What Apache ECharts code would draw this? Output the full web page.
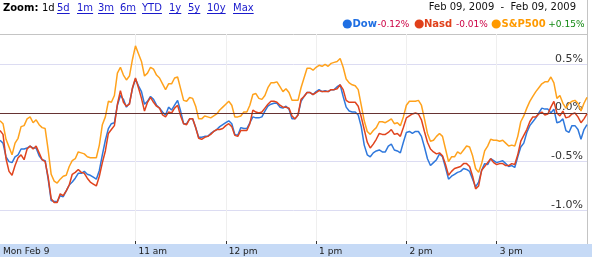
<!DOCTYPE html>
<html><head><meta charset="utf-8">
<script src="https://cdn.jsdelivr.net/npm/echarts@6/dist/echarts.min.js"></script>
<style>html,body{margin:0;padding:0;background:#fff;}#c{width:592px;height:257px;}</style>
</head><body><div id="c"></div>
<script>
// ---- data (percent change vs. previous close, 2-minute samples 09:30-16:00) ----
const dow = [
-0.28,-0.31,-0.45,-0.50,-0.51,-0.45,-0.43,-0.37,-0.37,-0.36,
-0.34,-0.36,-0.36,-0.44,-0.48,-0.49,-0.68,-0.90,-0.91,-0.91,
-0.85,-0.86,-0.80,-0.74,-0.71,-0.67,-0.62,-0.62,-0.60,-0.63,
-0.64,-0.66,-0.68,-0.59,-0.43,-0.28,-0.16,-0.11,-0.10,0.08,
0.18,0.14,0.06,0.10,0.25,0.35,0.28,0.22,0.09,0.12,
0.17,0.14,0.08,0.05,0.01,-0.02,0.06,0.03,0.08,0.13,
0.02,-0.11,-0.11,-0.06,-0.06,-0.15,-0.25,-0.25,-0.24,-0.24,
-0.21,-0.19,-0.17,-0.14,-0.12,-0.10,-0.08,-0.11,-0.22,-0.23,
-0.15,-0.16,-0.16,-0.10,-0.04,-0.05,-0.05,-0.04,0.02,0.07,
0.09,0.10,0.10,0.06,0.05,0.07,0.04,-0.06,-0.06,-0.02,
0.12,0.17,0.21,0.21,0.19,0.22,0.24,0.22,0.23,0.22,
0.24,0.24,0.27,0.29,0.17,0.06,0.02,0.01,0.01,-0.02,
-0.14,-0.33,-0.43,-0.45,-0.41,-0.39,-0.38,-0.40,-0.40,-0.34,
-0.32,-0.38,-0.39,-0.41,-0.30,-0.20,-0.19,-0.21,-0.19,-0.19,
-0.24,-0.35,-0.47,-0.54,-0.51,-0.48,-0.42,-0.45,-0.56,-0.68,
-0.65,-0.63,-0.61,-0.60,-0.57,-0.58,-0.60,-0.68,-0.76,-0.71,
-0.59,-0.52,-0.53,-0.47,-0.49,-0.51,-0.50,-0.49,-0.52,-0.55,
-0.54,-0.56,-0.45,-0.35,-0.31,-0.20,-0.13,-0.09,-0.05,0.00,
0.05,0.04,0.04,0.00,0.04,-0.10,-0.09,-0.06,-0.18,-0.20,
-0.13,-0.13,-0.17,-0.27,-0.17,-0.12];
const nasd = [
-0.18,-0.22,-0.47,-0.60,-0.64,-0.54,-0.46,-0.43,-0.48,-0.37,
-0.34,-0.37,-0.34,-0.41,-0.48,-0.50,-0.66,-0.88,-0.92,-0.92,
-0.83,-0.85,-0.80,-0.74,-0.63,-0.61,-0.58,-0.61,-0.62,-0.67,
-0.71,-0.73,-0.75,-0.65,-0.51,-0.39,-0.21,-0.17,-0.13,0.09,
0.23,0.11,0.07,0.09,0.26,0.36,0.26,0.15,0.02,0.11,
0.16,0.11,0.07,0.05,-0.02,-0.04,0.01,0.00,0.05,0.08,
-0.03,-0.11,-0.12,-0.06,-0.06,-0.15,-0.26,-0.27,-0.25,-0.24,
-0.22,-0.19,-0.17,-0.17,-0.16,-0.13,-0.11,-0.14,-0.23,-0.24,
-0.18,-0.18,-0.18,-0.11,0.03,0.01,0.00,0.01,0.05,0.09,
0.12,0.12,0.11,0.08,0.06,0.06,0.05,-0.03,-0.06,-0.02,
0.14,0.17,0.21,0.21,0.19,0.21,0.23,0.22,0.22,0.22,
0.24,0.24,0.25,0.29,0.24,0.13,0.11,0.11,0.11,0.07,
-0.04,-0.17,-0.30,-0.36,-0.32,-0.27,-0.21,-0.22,-0.22,-0.20,
-0.17,-0.22,-0.21,-0.24,-0.15,-0.05,-0.03,-0.01,0.00,-0.01,
-0.07,-0.19,-0.30,-0.37,-0.40,-0.42,-0.41,-0.44,-0.53,-0.64,
-0.60,-0.57,-0.56,-0.55,-0.52,-0.52,-0.55,-0.65,-0.78,-0.75,
-0.59,-0.55,-0.51,-0.47,-0.51,-0.53,-0.52,-0.52,-0.54,-0.54,
-0.52,-0.53,-0.43,-0.29,-0.23,-0.17,-0.09,-0.04,-0.04,-0.01,
0.01,-0.02,-0.01,0.06,0.12,0.00,-0.03,0.02,-0.05,-0.04,
-0.01,0.00,-0.04,-0.10,-0.06,-0.01];
const sp500 = [
-0.08,-0.11,-0.27,-0.35,-0.43,-0.31,-0.26,-0.14,-0.13,-0.06,
-0.04,-0.10,-0.07,-0.12,-0.15,-0.16,-0.38,-0.63,-0.70,-0.72,
-0.68,-0.65,-0.64,-0.55,-0.49,-0.47,-0.40,-0.41,-0.42,-0.45,
-0.46,-0.46,-0.46,-0.33,-0.12,-0.04,0.12,0.11,0.18,0.41,
0.47,0.39,0.34,0.38,0.55,0.69,0.61,0.53,0.38,0.41,
0.47,0.45,0.39,0.36,0.30,0.24,0.30,0.30,0.36,0.37,
0.25,0.13,0.12,0.16,0.15,0.07,-0.06,-0.06,-0.03,-0.04,
-0.05,-0.03,-0.01,0.03,0.06,0.09,0.12,0.08,-0.04,-0.04,
-0.03,0.01,0.01,0.08,0.19,0.20,0.15,0.14,0.18,0.26,
0.31,0.31,0.32,0.27,0.22,0.25,0.21,0.13,0.13,0.13,
0.26,0.36,0.46,0.46,0.44,0.47,0.49,0.48,0.50,0.48,
0.51,0.52,0.53,0.56,0.47,0.35,0.31,0.29,0.28,0.24,
0.08,-0.08,-0.19,-0.22,-0.18,-0.15,-0.09,-0.09,-0.10,-0.08,
-0.06,-0.11,-0.10,-0.13,-0.04,0.08,0.12,0.12,0.12,0.13,
0.08,-0.06,-0.21,-0.29,-0.28,-0.24,-0.21,-0.24,-0.37,-0.50,
-0.45,-0.45,-0.40,-0.42,-0.38,-0.34,-0.35,-0.44,-0.57,-0.61,
-0.52,-0.39,-0.34,-0.27,-0.28,-0.28,-0.29,-0.28,-0.31,-0.34,
-0.33,-0.34,-0.24,-0.09,-0.03,0.05,0.12,0.17,0.22,0.26,
0.30,0.32,0.32,0.37,0.31,0.15,0.18,0.10,0.05,0.10,
0.12,0.13,0.10,0.02,0.10,0.16];
const tickTimes = ['09:30','11:00','12:00','13:00','14:00','15:00'];
const tickLabels = ['Mon Feb 9','11 am','12 pm','1 pm','2 pm','3 pm'];
const seriesNames = ['Dow','Nasd','S&P500'];
const seriesChanges = ['-0.12%','-0.01%','+0.15%'];
const zoomLinks = ['5d','1m','3m','6m','YTD','1y','5y','10y','Max'];
const dateRange = 'Feb 09, 2009  -  Feb 09, 2009';

// ---- time grid ----
const times = [];
for (let m = 570; m <= 960; m += 2) {
  times.push(String(Math.floor(m / 60)).padStart(2, '0') + ':' + String(m % 60).padStart(2, '0'));
}
const hourIdx = tickTimes.map(t => times.indexOf(t));

const FONT = '"DejaVu Sans"';
const lineColors = ['#2f78dc', '#e0441e', '#ffa21c'];
const dotColors = ['#1f6fe3', '#e0401a', '#ff9a00'];
const chgColors = ['#cc0044', '#cc0044', '#118811'];

const cv = document.createElement('canvas').getContext('2d');
function tw(t, font) { cv.font = font; return cv.measureText(t).width; }

const graphics = [];
// bottom band
graphics.push({ type: 'rect', z: -10, shape: { x: 0, y: 244, width: 592, height: 13 }, style: { fill: '#c6daf6' } });
// borders
graphics.push({ type: 'line', shape: { x1: 0, y1: 34.5, x2: 587, y2: 34.5 }, style: { stroke: '#c4c4c4', lineWidth: 1 } });
graphics.push({ type: 'line', shape: { x1: 587.5, y1: 0, x2: 587.5, y2: 244 }, style: { stroke: '#c4c4c4', lineWidth: 1 } });
// zoom row
graphics.push({ type: 'text', x: 3, y: 8, style: { text: 'Zoom:', font: 'bold 10px ' + FONT, fill: '#000', textVerticalAlign: 'middle' } });
graphics.push({ type: 'text', x: 42, y: 8, style: { text: '1d', font: '10px ' + FONT, fill: '#000', textVerticalAlign: 'middle' } });
const linkX = [57, 77, 98, 120, 142, 169, 188, 207, 233];
zoomLinks.forEach((t, i) => {
  const f = '10px ' + FONT;
  graphics.push({ type: 'text', x: linkX[i], y: 8, style: { text: t, font: f, fill: '#1a1acc', textVerticalAlign: 'middle' } });
  graphics.push({ type: 'rect', shape: { x: linkX[i], y: 13, width: tw(t, f), height: 1 }, style: { fill: '#1a1acc' } });
});
// date range
graphics.push({ type: 'text', x: 576, y: 7, style: { text: dateRange, font: '10px ' + FONT, fill: '#111', textAlign: 'right', textVerticalAlign: 'middle' } });
// legend row
const dotX = [347.3, 419.2, 496.2];
const nameX = [352.5, 424, 501.5];
const chgX = [377.5, 456, 548.3];
seriesNames.forEach((n, i) => {
  graphics.push({ type: 'circle', shape: { cx: dotX[i], cy: 24, r: 4.6 }, style: { fill: dotColors[i] } });
  graphics.push({ type: 'text', x: nameX[i], y: 24, style: { text: n, font: 'bold 10px ' + FONT, fill: dotColors[i], textVerticalAlign: 'middle' } });
  graphics.push({ type: 'text', x: chgX[i], y: 25, style: { text: seriesChanges[i], font: '9px ' + FONT, fill: chgColors[i], textVerticalAlign: 'middle' } });
});

const yMax = (113 - 34) / 97.3;
const yMin = -(244 - 113) / 97.3;

const chart = echarts.init(document.getElementById('c'), null, { renderer: 'canvas' });
chart.setOption({
  animation: false,
  backgroundColor: '#ffffff',
  grid: { left: 0, right: 5, top: 34, bottom: 13, containLabel: false },
  xAxis: {
    type: 'category', data: times, boundaryGap: false,
    axisLine: { show: false, onZero: false },
    axisTick: { show: true, inside: true, length: 3, interval: (i) => i !== 0 && hourIdx.includes(i), lineStyle: { color: '#333' } },
    axisLabel: {
      interval: (i) => hourIdx.includes(i),
      formatter: (v) => tickLabels[tickTimes.indexOf(v)] || '',
      align: 'left', margin: 3, padding: [0, 0, 0, 3],
      fontFamily: FONT, fontSize: 9, color: '#1a1a1a'
    },
    splitLine: { show: true, interval: (i) => i !== 0 && hourIdx.includes(i), lineStyle: { color: '#efefef', width: 1 } }
  },
  yAxis: {
    type: 'value', position: 'right', min: yMin, max: yMax, minInterval: 0.5, maxInterval: 0.5,
    axisLine: { show: false }, axisTick: { show: false },
    axisLabel: {
      inside: true, showMinLabel: false, showMaxLabel: false,
      formatter: (v) => v.toFixed(1) + '%', verticalAlign: 'bottom', margin: 4,
      fontFamily: FONT, fontSize: 11, color: '#333'
    },
    splitLine: { show: true, showMinLine: false, showMaxLine: false, lineStyle: { color: '#dcdcf2', width: 1 } }
  },
  series: [
    { name: 'Dow', type: 'line', data: dow, showSymbol: false, color: lineColors[0], lineStyle: { width: 1.5 },
      markLine: { silent: true, symbol: 'none', label: { show: false }, lineStyle: { color: '#663333', width: 1, type: 'solid' }, data: [{ yAxis: 0 }] } },
    { name: 'Nasd', type: 'line', data: nasd, showSymbol: false, color: lineColors[1], lineStyle: { width: 1.5 } },
    { name: 'S&P500', type: 'line', data: sp500, showSymbol: false, color: lineColors[2], lineStyle: { width: 1.5 } }
  ],
  graphic: graphics
});
</script>
</body></html>
